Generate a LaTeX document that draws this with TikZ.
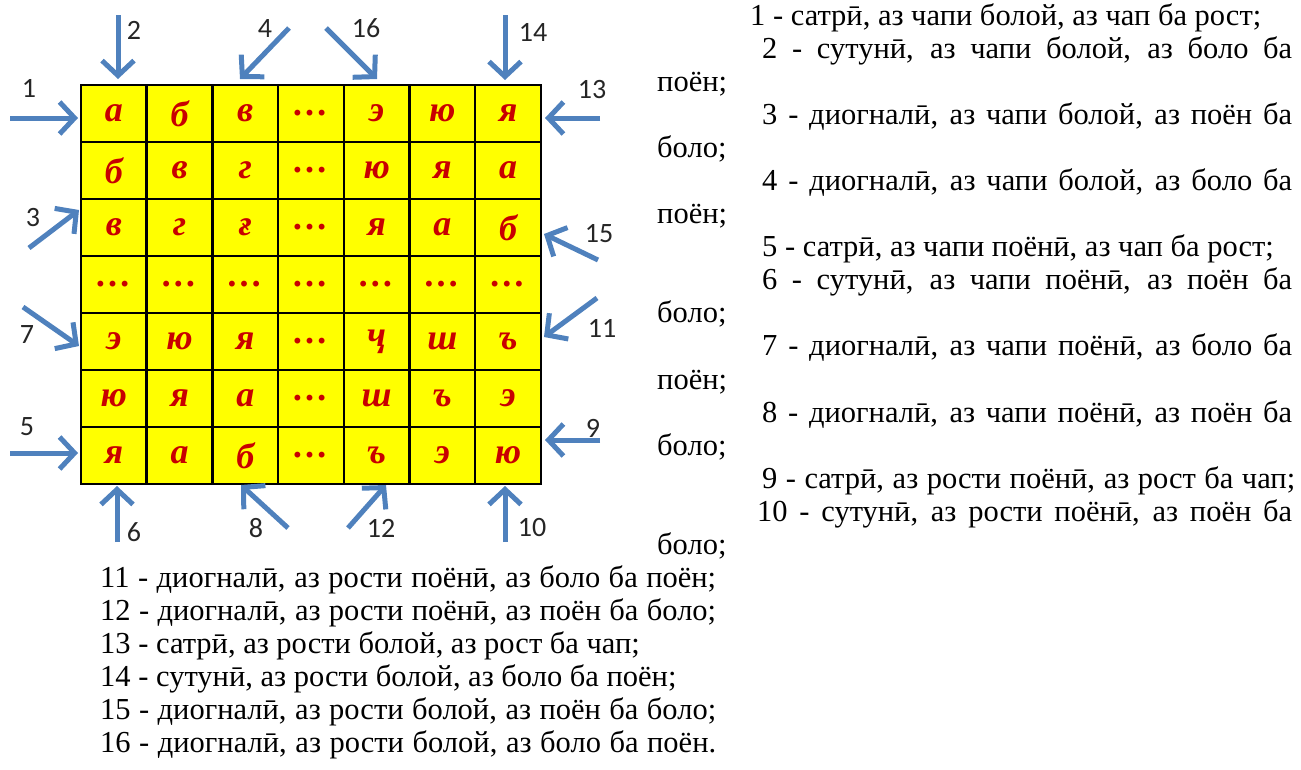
\documentclass[tikz,border=0pt]{standalone}
\usepackage{fontspec}
\setmainfont{Liberation Serif}
\newfontfamily\calfont{Carlito}
\usetikzlibrary{arrows.meta}
\definecolor{arrowblue}{HTML}{4F81BD}
\definecolor{letterred}{HTML}{C80000}
\definecolor{cellyellow}{HTML}{FFFF00}
\newcommand\fitline[2]{\makebox[#1][s]{\spaceskip=0.25em plus 20pt minus 1pt\relax #2}}

\begin{document}
\begin{tikzpicture}[
    x=1pt, y=-1pt,
    cell/.style={draw=black, line width=2.5pt, fill=cellyellow,
      minimum width=65.7pt, minimum height=57pt, inner sep=0pt,
      text=letterred, font=\fontsize{36}{36}\selectfont\bfseries\itshape},
    dirarrow/.style={draw=arrowblue, line width=5pt,
      -{Straight Barb[length=15pt, width=32pt]}},
    dirlabel/.style={font=\calfont\fontsize{28}{28}\selectfont,
      text=black!85, inner sep=0pt},
    txt/.style={anchor=base west, inner sep=0pt,
      font=\fontsize{30.5}{33}\selectfont}
  ]
  \useasboundingbox (0,0) rectangle (1301,769);

  \foreach \rowtxt [count=\i] in {
      {а,б,в,…,э,ю,я},
      {б,в,г,…,ю,я,а},
      {в,г,ғ,…,я,а,б},
      {…,…,…,…,…,…,…},
      {э,ю,я,…,ҷ,ш,ъ},
      {ю,я,а,…,ш,ъ,э},
      {я,а,б,…,ъ,э,ю}} {
    \foreach \ch [count=\j] in \rowtxt {
      \node[cell] (c-\i-\j) at ({81+65.7*(\j-0.5)}, {85+57*(\i-0.5)}) {\ch};
    }
  }

  \foreach \k/\tx/\ty/\hx/\hy/\lx/\ly in {
      1/10/118/78/118/29/88,
      2/118/15/118/79/134/30,
      3/29/248/79/210/33/218,
      4/289/28/240/79/265/29,
      5/10/453/78/453/27/427,
      6/117/542/117/486/134/532,
      7/23/307/79/346/27/335,
      8/288/528/241/485/256/528,
      9/600/440/545/440/593/428,
      10/505/542/505/486/532/528,
      11/597/298/544/337/602/328,
      12/348/528/386/485/381/528,
      13/600/118/545/118/592/90,
      14/505/15/505/80/533/32,
      15/598/260/544/234/599/234,
      16/326/28/377/79/366/28} {
    \coordinate (t\k) at (\tx,\ty);
    \coordinate (h\k) at (\hx,\hy);
    \draw[dirarrow] (t\k) -- (h\k);
    \node[dirlabel] (n\k) at (\lx,\ly) {\k};
  }

  \node[txt] (d1) at (750,25) {1 - сатрӣ, аз чапи болой, аз чап ба рост;};
  \node[txt] (d2) at (762,58) {\fitline{530pt}{2 - сутунӣ, аз чапи болой, аз боло ба}};
  \node[txt] (d2b) at (657,91) {поён;};
  \node[txt] (d3) at (762,124) {\fitline{530pt}{3 - диогналӣ, аз чапи болой, аз поён ба}};
  \node[txt] (d3b) at (657,157) {боло;};
  \node[txt] (d4) at (762,190) {\fitline{530pt}{4 - диогналӣ, аз чапи болой, аз боло ба}};
  \node[txt] (d4b) at (657,223) {поён;};
  \node[txt] (d5) at (762,256) {5 - сатрӣ, аз чапи поёнӣ, аз чап ба рост;};
  \node[txt] (d6) at (762,289) {\fitline{530pt}{6 - сутунӣ, аз чапи поёнӣ, аз поён ба}};
  \node[txt] (d6b) at (657,322) {боло;};
  \node[txt] (d7) at (762,355) {\fitline{530pt}{7 - диогналӣ, аз чапи поёнӣ, аз боло ба}};
  \node[txt] (d7b) at (657,389) {поён;};
  \node[txt] (d8) at (762,422) {\fitline{530pt}{8 - диогналӣ, аз чапи поёнӣ, аз поён ба}};
  \node[txt] (d8b) at (657,455) {боло;};
  \node[txt] (d9) at (762,488) {\fitline{533pt}{9 - сатрӣ, аз рости поёнӣ, аз рост ба чап;}};
  \node[txt] (d10) at (757,521) {\fitline{535pt}{10 - сутунӣ, аз рости поёнӣ, аз поён ба}};
  \node[txt] (d10b) at (657,554) {боло;};
  \node[txt] (d11) at (100,587) {\fitline{616pt}{11 - диогналӣ, аз рости поёнӣ, аз боло ба поён;}};
  \node[txt] (d12) at (100,620) {\fitline{616pt}{12 - диогналӣ, аз рости поёнӣ, аз поён ба боло;}};
  \node[txt] (d13) at (100,653) {13 - сатрӣ, аз рости болой, аз рост ба чап;};
  \node[txt] (d14) at (100,686) {14 - сутунӣ, аз рости болой, аз боло ба поён;};
  \node[txt] (d15) at (100,719) {\fitline{616pt}{15 - диогналӣ, аз рости болой, аз поён ба боло;}};
  \node[txt] (d16) at (100,752) {\fitline{616pt}{16 - диогналӣ, аз рости болой, аз боло ба поён.}};
\end{tikzpicture}
\end{document}
